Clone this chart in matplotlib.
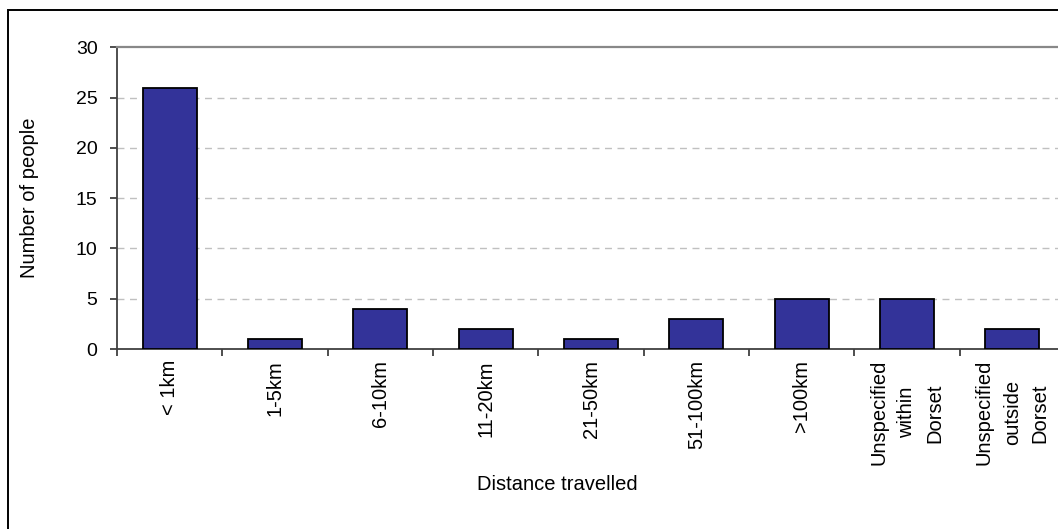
import numpy as np
import matplotlib
matplotlib.use("Agg")
import matplotlib.pyplot as plt
from matplotlib.patches import Rectangle

# data
categories = ["< 1km", "1-5km", "6-10km", "11-20km", "21-50km", "51-100km",
              ">100km", "Unspecified\nwithin\nDorset", "Unspecified\noutside\nDorset"]
people = [26, 1, 4, 2, 1, 3, 5, 5, 2]
y_ticks = [0, 5, 10, 15, 20, 25, 30]

plt.rcParams["font.family"] = ["Liberation Sans", "DejaVu Sans"]

W, H = 1058, 529
fig = plt.figure(figsize=(W / 100, H / 100), dpi=100)

# plot area (slightly cut off on the right like the original)
left, right, top, bottom = 117, 1065, 47.3, 349
ax = fig.add_axes([left / W, 1 - bottom / H, (right - left) / W, (bottom - top) / H])

x = np.arange(len(categories))
ax.bar(x, people, width=0.51, color="#333399", edgecolor="black",
       linewidth=1.3, zorder=3)

ax.set_xlim(-0.5, len(categories) - 0.5)
ax.set_ylim(0, 30)
ax.set_yticks(y_ticks)

# dashed grid (the 30 line is the solid top border)
for v in y_ticks[1:-1]:
    ax.axhline(v, color="#c0c0c0", lw=1.0, ls=(0, (5, 4)), zorder=1)

# ticks between categories, labels at centres
ax.set_xticks(np.arange(len(categories) + 1) - 0.5)
ax.set_xticklabels([])
ax.set_xticks(x, minor=True)
ax.set_xticklabels(categories, minor=True, rotation=90, ha="center",
                   va="top", multialignment="center", fontsize=14.5,
                   linespacing=1.6)
ax.tick_params(axis="x", which="minor", length=0, pad=8)
ax.tick_params(axis="x", which="major", length=5, width=1.3,
               color="#404040", direction="out")
ax.tick_params(axis="y", length=5, width=1.3, color="#404040",
               direction="out", labelsize=14, pad=9)

for s in ("left", "bottom"):
    ax.spines[s].set_color("#404040")
    ax.spines[s].set_linewidth(1.3)
ax.spines["top"].set_color("#888888")
ax.spines["top"].set_linewidth(1.6)
ax.spines["right"].set_visible(False)

fig.text(30 / W, 1 - 198 / H, "Number of people", rotation=90,
         ha="center", va="center", fontsize=14.5)
fig.text(557 / W, 1 - 484 / H, "Distance travelled",
         ha="center", va="center", fontsize=14.5)

# outer chart border (only left and top edges fall inside the picture)
fig.patches.append(Rectangle((8 / W, -0.1), 1.2, 1.1 - 10 / H,
                             transform=fig.transFigure, fill=False,
                             edgecolor="black", linewidth=1.4))

fig.savefig("out.png", dpi=100)
